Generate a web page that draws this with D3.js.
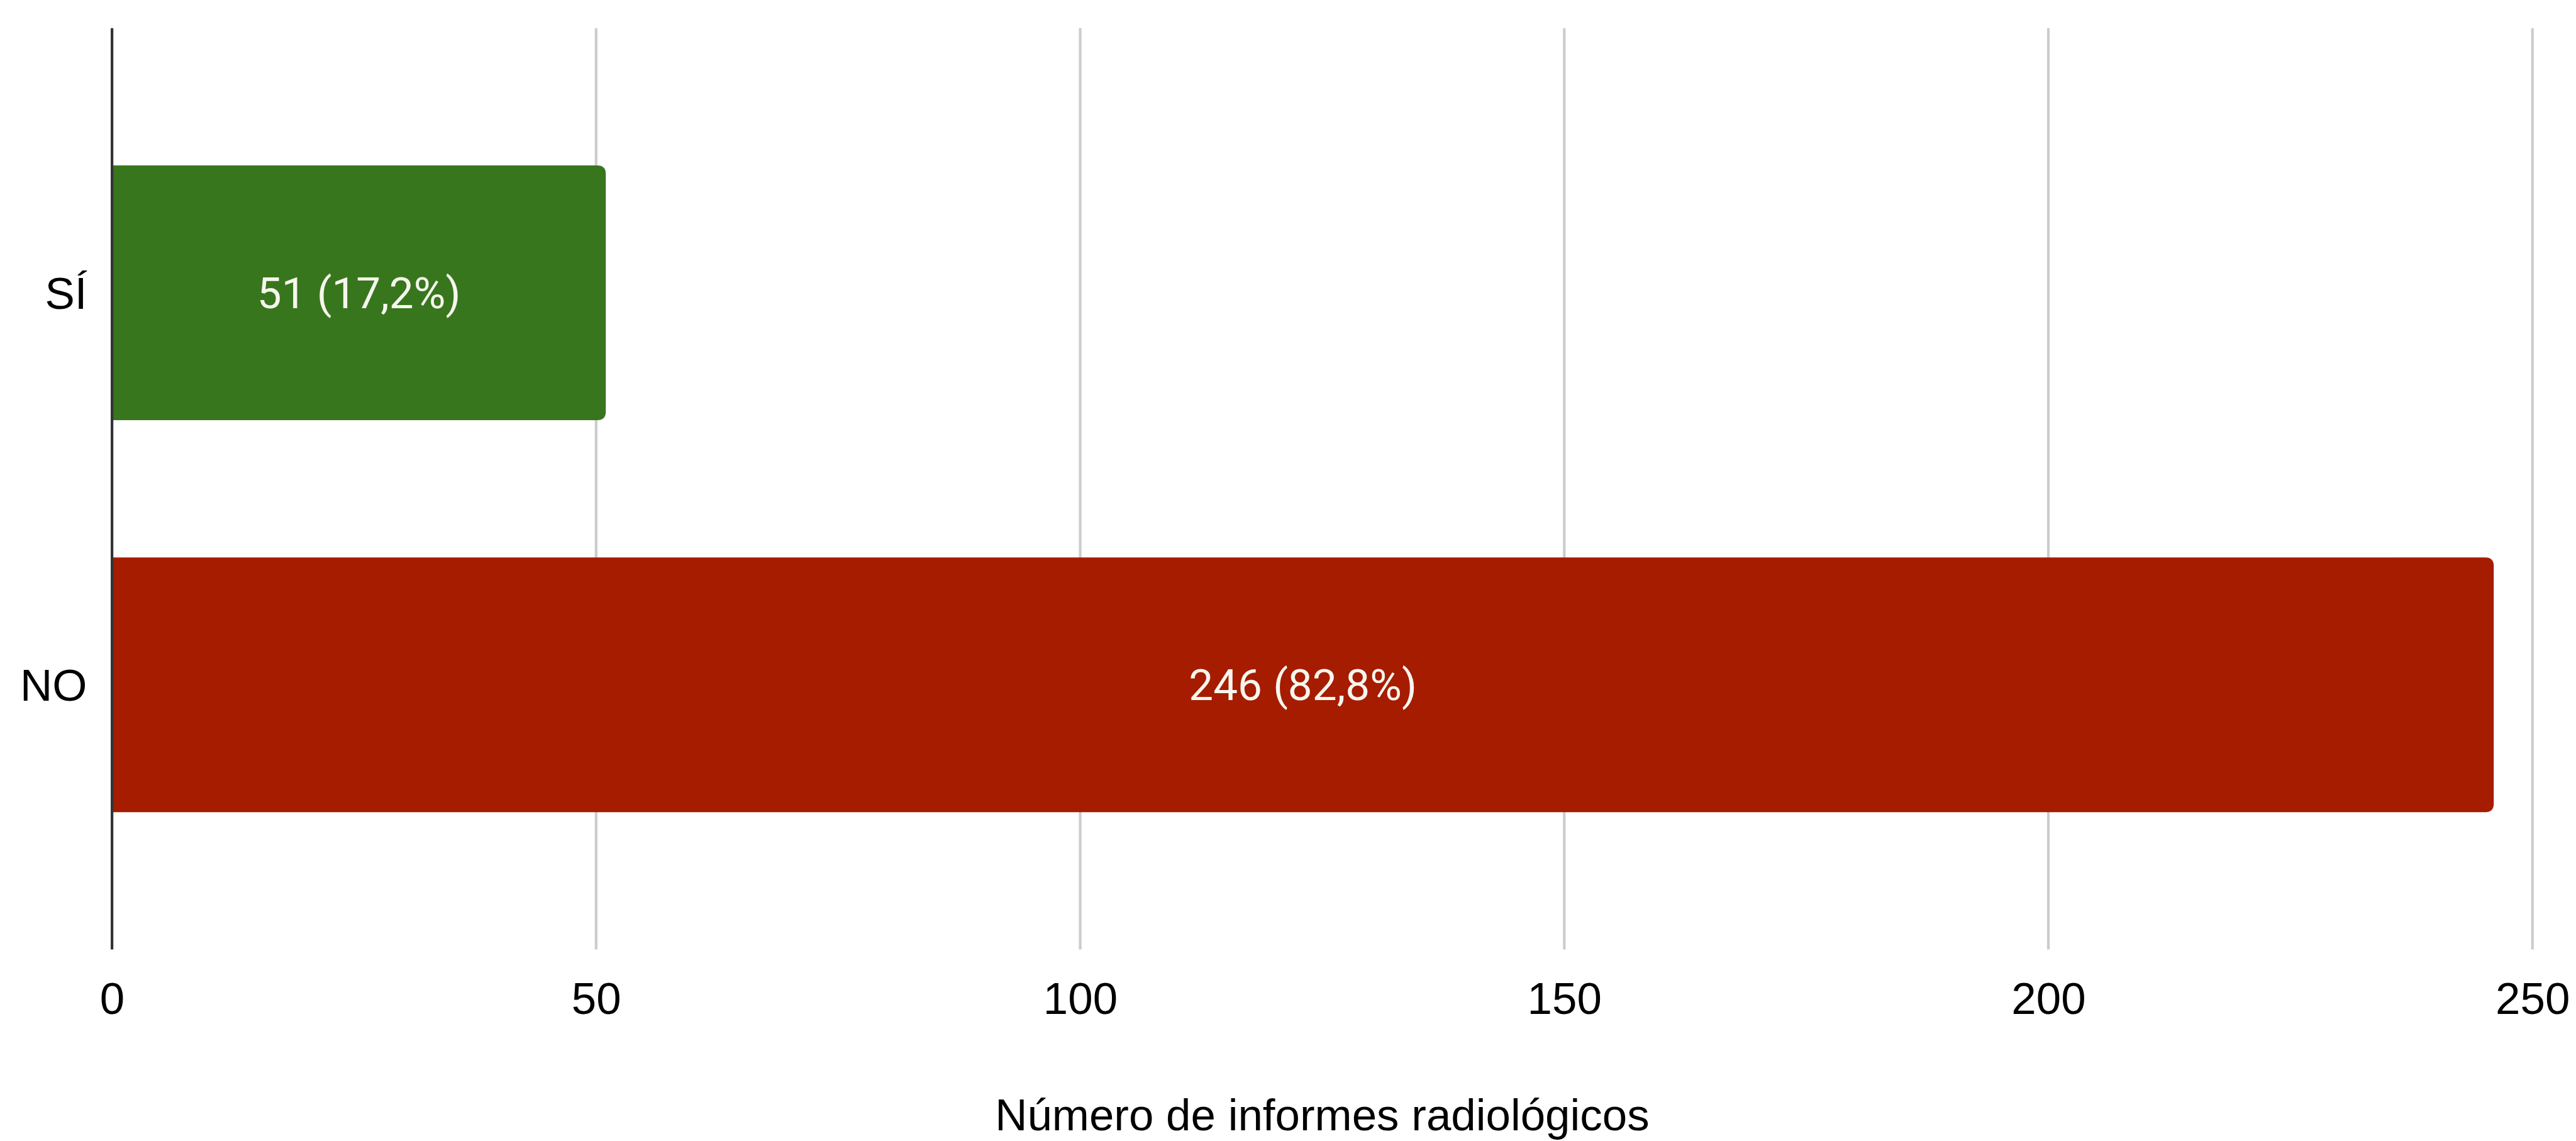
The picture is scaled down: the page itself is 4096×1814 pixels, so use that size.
<!DOCTYPE html>
<html>
<head>
<meta charset="utf-8">
<script src="https://cdn.jsdelivr.net/npm/d3@7"></script>
<style>
  html, body { margin: 0; padding: 0; background: #ffffff; }
  svg { display: block; }
</style>
</head>
<body>
<svg id="chart" width="4096" height="1814"></svg>
<script>
// Categories and values
const categories = ["SÍ", "NO"];
const counts = [51, 246];
const percentLabels = ["17,2%", "82,8%"];
const barColors = ["#38761d", "#a61c00"];
const xTicks = [0, 50, 100, 150, 200, 250];
const xTitle = "Número de informes radiológicos";

// Layout is written in a 4852 x 2149 design space and scaled to the window
const W = 4852, H = 2149;
const k = 4096 / W;
const plot = { left: 211, right: 4770, top: 53, bottom: 1788 };

const svg = d3.select("#chart");
const g = svg.append("g").attr("transform", `scale(${k})`);

const x = d3.scaleLinear().domain([0, 250]).range([plot.left, plot.right]);
const y = d3.scaleBand().domain(categories).range([plot.top, plot.bottom])
  .paddingInner(0.35).paddingOuter(0.35);

// Vertical gridlines
g.append("g").selectAll("line")
  .data(xTicks.filter(t => t !== 0))
  .join("line")
  .attr("x1", d => x(d)).attr("x2", d => x(d))
  .attr("y1", plot.top).attr("y2", plot.bottom)
  .attr("stroke", "#cccccc").attr("stroke-width", 5);

// Bars with rounded right-hand corners
const r = 16;
function barPath(x0, x1, y0, h) {
  const rr = Math.min(r, (x1 - x0) / 2, h / 2);
  return `M${x0},${y0}H${x1 - rr}Q${x1},${y0} ${x1},${y0 + rr}` +
         `V${y0 + h - rr}Q${x1},${y0 + h} ${x1 - rr},${y0 + h}H${x0}Z`;
}
const rows = categories.map((c, i) => ({ c, v: counts[i], p: percentLabels[i], col: barColors[i] }));
g.append("g").selectAll("path")
  .data(rows)
  .join("path")
  .attr("d", d => barPath(x(0), x(d.v), y(d.c), y.bandwidth()))
  .attr("fill", d => d.col);

// Value labels inside bars
g.append("g").selectAll("text")
  .data(rows)
  .join("text")
  .attr("x", d => (x(0) + x(d.v)) / 2)
  .attr("y", d => y(d.c) + y.bandwidth() / 2)
  .attr("dy", "0.355em")
  .attr("text-anchor", "middle")
  .attr("font-family", "Roboto, 'Noto Sans', sans-serif")
  .attr("font-size", 82)
  .attr("fill", "#f6f6ee")
  .text(d => `${d.v} (${d.p})`);

// Zero axis line
g.append("line")
  .attr("x1", x(0)).attr("x2", x(0))
  .attr("y1", plot.top).attr("y2", plot.bottom)
  .attr("stroke", "#333333").attr("stroke-width", 5);

// Bottom axis tick labels
const xAxis = g.append("g")
  .attr("transform", `translate(0,${plot.bottom})`)
  .call(d3.axisBottom(x).tickValues(xTicks).tickSize(0).tickFormat(d3.format("d")));
xAxis.select(".domain").remove();
xAxis.selectAll("text")
  .attr("y", 121).attr("dy", 0)
  .attr("font-family", "'Liberation Sans', Arial, sans-serif")
  .attr("font-size", 84)
  .attr("fill", "#000000");

// Category labels
const yAxis = g.append("g")
  .attr("transform", `translate(${x(0)},0)`)
  .call(d3.axisLeft(y).tickSize(0).tickPadding(47));
yAxis.select(".domain").remove();
yAxis.selectAll("text")
  .attr("dy", "0.355em")
  .attr("font-family", "'Liberation Sans', Arial, sans-serif")
  .attr("font-size", 84)
  .attr("fill", "#000000");

// Axis title
g.append("text")
  .attr("x", (plot.left + plot.right) / 2)
  .attr("y", 2129)
  .attr("text-anchor", "middle")
  .attr("font-family", "'Liberation Sans', Arial, sans-serif")
  .attr("font-size", 84)
  .attr("fill", "#000000")
  .text(xTitle);
</script>
</body>
</html>
